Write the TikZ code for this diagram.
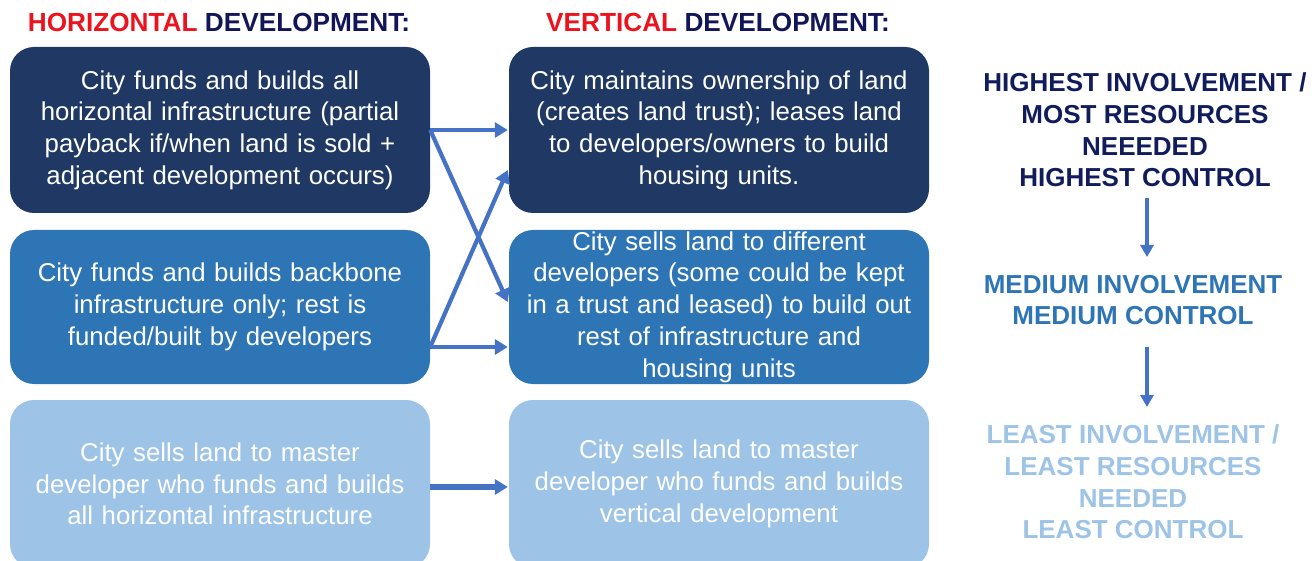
\documentclass[tikz,border=0pt]{standalone}
\usepackage{fontspec}
\setmainfont{Liberation Sans}
\usetikzlibrary{arrows.meta,calc}
\definecolor{navybox}{RGB}{31,56,100}
\definecolor{midbox}{RGB}{46,117,182}
\definecolor{lightbox}{RGB}{157,195,230}
\definecolor{arrowblue}{RGB}{68,114,196}
\definecolor{hdrred}{RGB}{235,20,30}
\definecolor{hdrnavy}{RGB}{18,22,88}
\definecolor{topnavy}{RGB}{16,28,92}
\begin{document}
\begin{tikzpicture}[x=1pt,y=-1pt,
  box/.style={rounded corners=24pt, minimum width=420pt, text width=414pt, align=center,
    inner sep=0pt, text=white, font=\fontsize{25.8}{31.7}\selectfont},
  hdr/.style={font=\fontsize{26.2}{30}\selectfont\bfseries, inner sep=0pt},
  side/.style={font=\fontsize{26}{31.6}\selectfont\bfseries, align=center, inner sep=0pt},
  arr/.style={draw=arrowblue, line width=4.2pt, -{Triangle[length=13pt,width=15pt]}},
  varr/.style={draw=arrowblue, line width=4pt, -{Triangle[length=12pt,width=13pt]}}
]
\useasboundingbox (0,0) rectangle (1315,561);
% headers
\node[hdr] (h1) at (219,22) {\textcolor{hdrred}{HORIZONTAL} \textcolor{hdrnavy}{DEVELOPMENT:}};
\node[hdr] (h2) at (718,22) {\textcolor{hdrred}{VERTICAL} \textcolor{hdrnavy}{DEVELOPMENT:}};
% left column
\node[box, fill=navybox, minimum height=166pt] (a1) at (220,130)
  {City funds and builds all\\horizontal infrastructure (partial\\payback if/when land is sold +\\adjacent development occurs)};
\node[box, fill=midbox, minimum height=154pt] (a2) at (220,307)
  {City funds and builds backbone\\infrastructure only; rest is\\funded/built by developers};
\node[box, fill=lightbox, minimum height=168pt] (a3) at (220,484)
  {City sells land to master\\developer who funds and builds\\all horizontal infrastructure};
% middle column
\node[box, fill=navybox, minimum height=166pt] (b1) at (719,130)
  {City maintains ownership of land\\(creates land trust); leases land\\to developers/owners to build\\housing units.};
\node[box, fill=midbox, minimum height=154pt] (b2) at (719,307)
  {City sells land to different\\developers (some could be kept\\in a trust and leased) to build out\\rest of infrastructure and\\housing units};
\node[box, fill=lightbox, minimum height=168pt] (b3) at (719,484)
  {City sells land to master\\developer who funds and builds\\vertical development};
% connectors
\draw[arr] (a1.east) -- ($(b1.west)+(-1,0)$);
\draw[arr] (a1.east) -- ($(b2.west)+(-1,-5)$);
\draw[arr] ($(a2.east)+(0,40)$) -- ($(b1.west)+(-1,40)$);
\draw[arr] ($(a2.east)+(0,40)$) -- ($(b2.west)+(-1,40)$);
\draw[arr, line width=5.5pt] ($(a3.east)+(0,3)$) -- ($(b3.west)+(-1,3)$);
% right side
\node[side, text=topnavy] (r1) at (1145,130)
  {HIGHEST INVOLVEMENT /\\MOST RESOURCES\\NEEEDED\\HIGHEST CONTROL};
\node[side, text=midbox] (r2) at (1133,300)
  {MEDIUM INVOLVEMENT\\MEDIUM CONTROL};
\node[side, text=lightbox] (r3) at (1133,482)
  {LEAST INVOLVEMENT /\\LEAST RESOURCES\\NEEDED\\LEAST CONTROL};
\draw[varr] ($(r1.center)+(2,68)$) -- ($(r2.center)+(14,-43)$);
\draw[varr] ($(r2.center)+(14,47)$) -- ($(r3.center)+(14,-75)$);
\end{tikzpicture}
\end{document}
